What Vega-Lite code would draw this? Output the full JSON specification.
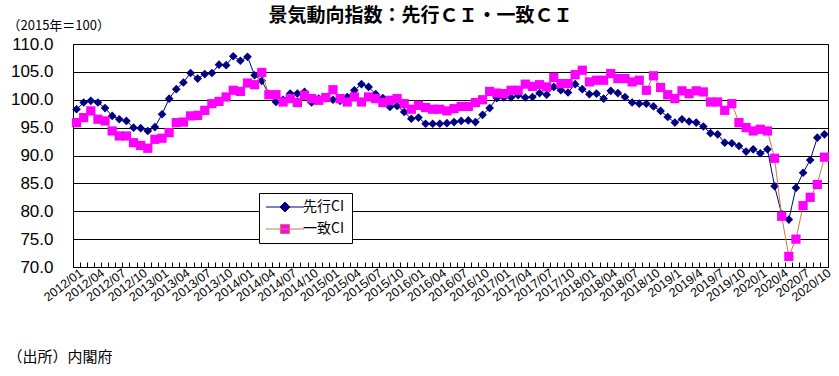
{
  "$schema": "https://vega.github.io/schema/vega-lite/v6.json",
  "width": 755,
  "height": 223,
  "autosize": "none",
  "padding": {"left": 73, "top": 44, "right": 11, "bottom": 109},
  "background": "#ffffff",
  "config": {
    "view": {"stroke": "#000000", "strokeWidth": 1},
    "font": "Liberation Sans"
  },
  "title": {
    "text": "景気動向指数：先行ＣＩ・一致ＣＩ",
    "anchor": "middle",
    "frame": "group",
    "font": "Noto Sans CJK JP",
    "fontSize": 19,
    "fontWeight": "bold",
    "color": "#000000",
    "offset": 17,
    "dx": -30,
    "dy": 24
  },
  "data": {
    "values": [
      {"m": "2012/01", "先行CI": 98.3, "一致CI": 95.9},
      {"m": "2012/02", "先行CI": 99.5, "一致CI": 96.8},
      {"m": "2012/03", "先行CI": 99.8, "一致CI": 98.0},
      {"m": "2012/04", "先行CI": 99.5, "一致CI": 96.5},
      {"m": "2012/05", "先行CI": 98.5, "一致CI": 96.2},
      {"m": "2012/06", "先行CI": 97.1, "一致CI": 94.4},
      {"m": "2012/07", "先行CI": 96.5, "一致CI": 93.5},
      {"m": "2012/08", "先行CI": 96.2, "一致CI": 93.5},
      {"m": "2012/09", "先行CI": 95.0, "一致CI": 92.3},
      {"m": "2012/10", "先行CI": 94.9, "一致CI": 91.8},
      {"m": "2012/11", "先行CI": 94.4, "一致CI": 91.3},
      {"m": "2012/12", "先行CI": 95.1, "一致CI": 92.9},
      {"m": "2013/01", "先行CI": 97.4, "一致CI": 93.1},
      {"m": "2013/02", "先行CI": 100.2, "一致CI": 94.1},
      {"m": "2013/03", "先行CI": 101.9, "一致CI": 95.9},
      {"m": "2013/04", "先行CI": 103.1, "一致CI": 96.0},
      {"m": "2013/05", "先行CI": 104.8, "一致CI": 97.1},
      {"m": "2013/06", "先行CI": 103.8, "一致CI": 97.2},
      {"m": "2013/07", "先行CI": 104.6, "一致CI": 98.1},
      {"m": "2013/08", "先行CI": 104.8, "一致CI": 99.3},
      {"m": "2013/09", "先行CI": 106.3, "一致CI": 99.7},
      {"m": "2013/10", "先行CI": 106.2, "一致CI": 100.5},
      {"m": "2013/11", "先行CI": 107.8, "一致CI": 101.7},
      {"m": "2013/12", "先行CI": 107.0, "一致CI": 101.5},
      {"m": "2014/01", "先行CI": 107.7, "一致CI": 103.0},
      {"m": "2014/02", "先行CI": 104.4, "一致CI": 102.7},
      {"m": "2014/03", "先行CI": 103.4, "一致CI": 104.9},
      {"m": "2014/04", "先行CI": 101.0, "一致CI": 100.9},
      {"m": "2014/05", "先行CI": 99.6, "一致CI": 100.9},
      {"m": "2014/06", "先行CI": 100.0, "一致CI": 99.6},
      {"m": "2014/07", "先行CI": 101.1, "一致CI": 100.2},
      {"m": "2014/08", "先行CI": 101.1, "一致CI": 99.5},
      {"m": "2014/09", "先行CI": 101.4, "一致CI": 100.8},
      {"m": "2014/10", "先行CI": 99.5, "一致CI": 100.2},
      {"m": "2014/11", "先行CI": 100.2, "一致CI": 99.9},
      {"m": "2014/12", "先行CI": 100.3, "一致CI": 100.4},
      {"m": "2015/01", "先行CI": 100.0, "一致CI": 101.8},
      {"m": "2015/02", "先行CI": 99.8, "一致CI": 100.2},
      {"m": "2015/03", "先行CI": 100.5, "一致CI": 99.6},
      {"m": "2015/04", "先行CI": 101.7, "一致CI": 100.5},
      {"m": "2015/05", "先行CI": 102.8, "一致CI": 99.6},
      {"m": "2015/06", "先行CI": 102.3, "一致CI": 100.5},
      {"m": "2015/07", "先行CI": 101.0, "一致CI": 100.2},
      {"m": "2015/08", "先行CI": 100.3, "一致CI": 99.5},
      {"m": "2015/09", "先行CI": 98.7, "一致CI": 99.9},
      {"m": "2015/10", "先行CI": 98.9, "一致CI": 100.2},
      {"m": "2015/11", "先行CI": 97.8, "一致CI": 99.3},
      {"m": "2015/12", "先行CI": 96.6, "一致CI": 98.3},
      {"m": "2016/01", "先行CI": 96.8, "一致CI": 99.0},
      {"m": "2016/02", "先行CI": 95.7, "一致CI": 98.6},
      {"m": "2016/03", "先行CI": 95.7, "一致CI": 98.3},
      {"m": "2016/04", "先行CI": 95.7, "一致CI": 98.3},
      {"m": "2016/05", "先行CI": 95.8, "一致CI": 98.0},
      {"m": "2016/06", "先行CI": 96.0, "一致CI": 98.4},
      {"m": "2016/07", "先行CI": 96.2, "一致CI": 98.8},
      {"m": "2016/08", "先行CI": 96.3, "一致CI": 98.8},
      {"m": "2016/09", "先行CI": 96.0, "一致CI": 99.5},
      {"m": "2016/10", "先行CI": 97.3, "一致CI": 100.0},
      {"m": "2016/11", "先行CI": 98.5, "一致CI": 101.5},
      {"m": "2016/12", "先行CI": 100.3, "一致CI": 101.2},
      {"m": "2017/01", "先行CI": 100.4, "一致CI": 101.1},
      {"m": "2017/02", "先行CI": 100.4, "一致CI": 101.7},
      {"m": "2017/03", "先行CI": 100.8, "一致CI": 101.7},
      {"m": "2017/04", "先行CI": 100.4, "一致CI": 102.8},
      {"m": "2017/05", "先行CI": 100.5, "一致CI": 102.4},
      {"m": "2017/06", "先行CI": 101.2, "一致CI": 102.7},
      {"m": "2017/07", "先行CI": 100.9, "一致CI": 102.3},
      {"m": "2017/08", "先行CI": 102.3, "一致CI": 104.0},
      {"m": "2017/09", "先行CI": 101.7, "一致CI": 102.9},
      {"m": "2017/10", "先行CI": 101.3, "一致CI": 102.9},
      {"m": "2017/11", "先行CI": 102.8, "一致CI": 104.5},
      {"m": "2017/12", "先行CI": 101.9, "一致CI": 105.3},
      {"m": "2018/01", "先行CI": 101.0, "一致CI": 103.2},
      {"m": "2018/02", "先行CI": 101.1, "一致CI": 103.5},
      {"m": "2018/03", "先行CI": 100.2, "一致CI": 103.5},
      {"m": "2018/04", "先行CI": 101.6, "一致CI": 104.7},
      {"m": "2018/05", "先行CI": 101.2, "一致CI": 103.8},
      {"m": "2018/06", "先行CI": 100.5, "一致CI": 103.8},
      {"m": "2018/07", "先行CI": 99.5, "一致CI": 103.2},
      {"m": "2018/08", "先行CI": 99.3, "一致CI": 103.5},
      {"m": "2018/09", "先行CI": 99.3, "一致CI": 101.7},
      {"m": "2018/10", "先行CI": 98.8, "一致CI": 104.3},
      {"m": "2018/11", "先行CI": 98.0, "一致CI": 102.2},
      {"m": "2018/12", "先行CI": 96.9, "一致CI": 100.9},
      {"m": "2019/1", "先行CI": 95.9, "一致CI": 100.2},
      {"m": "2019/2", "先行CI": 96.5, "一致CI": 101.6},
      {"m": "2019/3", "先行CI": 96.1, "一致CI": 101.1},
      {"m": "2019/4", "先行CI": 95.9, "一致CI": 101.6},
      {"m": "2019/5", "先行CI": 95.2, "一致CI": 101.4},
      {"m": "2019/6", "先行CI": 94.0, "一致CI": 99.6},
      {"m": "2019/7", "先行CI": 93.8, "一致CI": 99.6},
      {"m": "2019/8", "先行CI": 92.3, "一致CI": 98.1},
      {"m": "2019/9", "先行CI": 92.2, "一致CI": 99.3},
      {"m": "2019/10", "先行CI": 91.7, "一致CI": 95.9},
      {"m": "2019/11", "先行CI": 90.7, "一致CI": 95.0},
      {"m": "2019/12", "先行CI": 91.1, "一致CI": 94.4},
      {"m": "2020/1", "先行CI": 90.4, "一致CI": 94.7},
      {"m": "2020/2", "先行CI": 91.1, "一致CI": 94.4},
      {"m": "2020/3", "先行CI": 84.5, "一致CI": 89.5},
      {"m": "2020/4", "先行CI": 79.5, "一致CI": 79.1},
      {"m": "2020/5", "先行CI": 78.5, "一致CI": 71.9},
      {"m": "2020/6", "先行CI": 84.2, "一致CI": 75.0},
      {"m": "2020/7", "先行CI": 86.9, "一致CI": 81.0},
      {"m": "2020/8", "先行CI": 89.2, "一致CI": 82.5},
      {"m": "2020/9", "先行CI": 93.2, "一致CI": 84.8},
      {"m": "2020/10", "先行CI": 93.8, "一致CI": 89.7}
    ]
  },
  "transform": [{"fold": ["先行CI", "一致CI"], "as": ["s", "v"]}],
  "encoding": {
    "x": {
      "field": "m",
      "type": "ordinal",
      "sort": null,
      "scale": {"type": "band", "paddingInner": 0, "paddingOuter": 0},
      "axis": {
        "title": "（出所）内閣府",
        "titleFont": "Noto Sans CJK JP",
        "titleFontSize": 15,
        "titleFontWeight": "normal",
        "titleColor": "#000000",
        "titleAnchor": "start",
        "titleAlign": "left",
        "titleBaseline": "middle",
        "titleX": -66,
        "titleY": 89,
        "bandPosition": 0,
        "domainColor": "#000000",
        "tickColor": "#000000",
        "tickSize": -5,
        "labelAngle": -37,
        "labelAlign": "right",
        "labelBaseline": "middle",
        "labelPadding": 9,
        "labelOffset": 5,
        "labelFont": "Liberation Sans",
        "labelFontSize": 12.5,
        "labelColor": "#000000",
        "labelOverlap": false,
        "labelExpr": "indexof(['01','04','07','10','1','4','7'], split(datum.value, '/')[1]) >= 0 ? datum.value : ''"
      }
    },
    "y": {
      "field": "v",
      "type": "quantitative",
      "scale": {"domain": [70, 110], "nice": false, "zero": false},
      "axis": {
        "values": [70, 75, 80, 85, 90, 95, 100, 105, 110],
        "format": ".1f",
        "title": "（2015年＝100）",
        "titleFont": "Noto Sans CJK JP",
        "titleFontSize": 13,
        "titleFontWeight": "normal",
        "titleColor": "#000000",
        "titleAngle": 0,
        "titleAlign": "left",
        "titleBaseline": "middle",
        "titleX": -66,
        "titleY": -19,
        "ticks": false,
        "labelPadding": 20,
        "labelFont": "Liberation Sans",
        "labelFontSize": 17,
        "labelColor": "#000000",
        "domainColor": "#000000",
        "grid": true,
        "gridColor": "#000000",
        "gridWidth": 1,
        "gridOpacity": 1
      }
    }
  },
  "layer": [
    {
      "transform": [{"filter": "false"}],
      "mark": {"type": "point", "filled": true, "size": 75, "opacity": 1, "strokeWidth": 1},
      "encoding": {
        "fill": {
          "field": "s",
          "type": "nominal",
          "scale": {"domain": ["先行CI", "一致CI"], "range": ["#000080", "#ff00ff"]},
          "legend": {
            "title": null,
            "orient": "none",
            "legendX": 186,
            "legendY": 149,
            "strokeColor": "#000000",
            "fillColor": "#ffffff",
            "padding": 7,
            "rowPadding": 8,
            "symbolSize": 75,
            "symbolOpacity": 1,
            "symbolStrokeWidth": 1,
            "symbolOffset": 12,
            "labelOffset": 11,
            "labelFont": "Noto Sans CJK JP",
            "labelFontSize": 14,
            "labelColor": "#000000"
          }
        },
        "shape": {
          "field": "s",
          "type": "nominal",
          "scale": {"domain": ["先行CI", "一致CI"], "range": ["M-4.4,0L4.4,0M0,-1.15L1.15,0L0,1.15L-1.15,0Z", "M-4.4,0L4.4,0M-1.05,-1.05L1.05,-1.05L1.05,1.05L-1.05,1.05Z"]}
        },
        "stroke": {
          "field": "s",
          "type": "nominal",
          "scale": {"domain": ["先行CI", "一致CI"], "range": ["#000080", "#cc7a45"]}
        }
      }
    },
    {
      "transform": [{"filter": "datum.s === '先行CI'"}],
      "mark": {"type": "line", "color": "#000080", "strokeWidth": 1}
    },
    {
      "transform": [{"filter": "datum.s === '先行CI'"}],
      "mark": {"type": "point", "shape": "diamond", "filled": true, "size": 75, "opacity": 1, "fill": "#000080"}
    },
    {
      "transform": [{"filter": "datum.s === '一致CI'"}],
      "mark": {"type": "line", "color": "#cc7a45", "strokeWidth": 1}
    },
    {
      "transform": [{"filter": "datum.s === '一致CI'"}],
      "mark": {"type": "point", "shape": "square", "filled": true, "size": 85, "opacity": 1, "fill": "#ff00ff"}
    }
  ]
}
